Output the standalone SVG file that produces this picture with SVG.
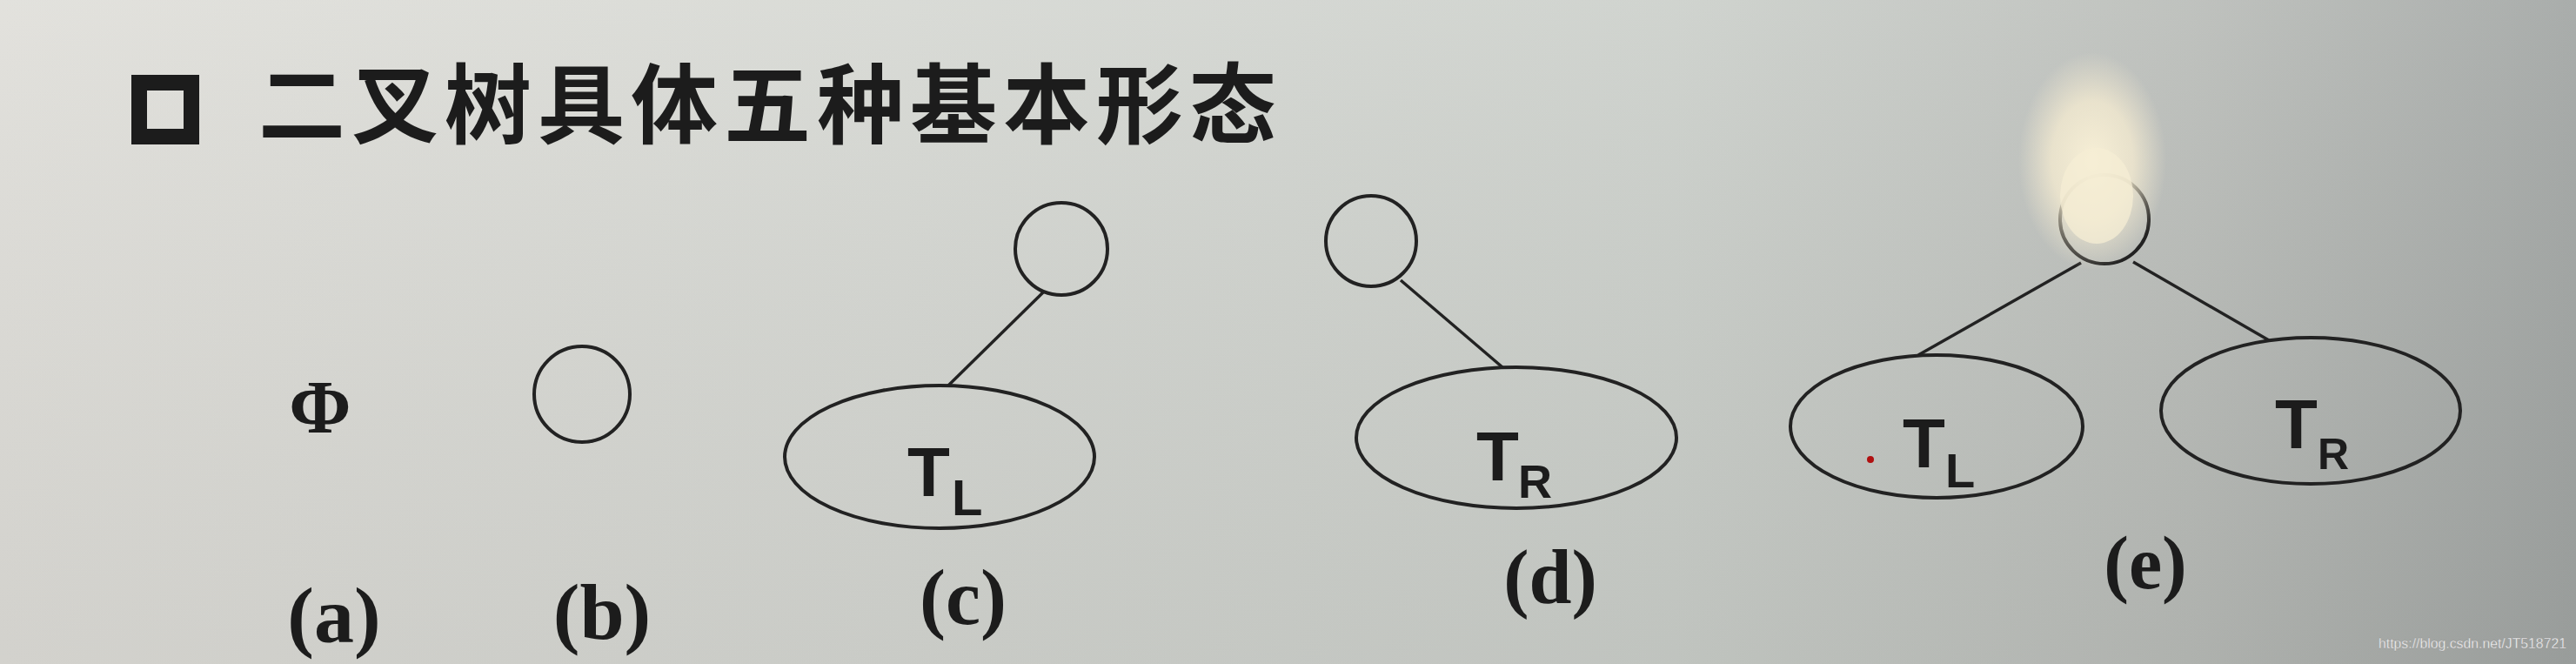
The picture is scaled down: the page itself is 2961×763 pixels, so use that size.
<svg xmlns="http://www.w3.org/2000/svg" width="2961" height="763" viewBox="0 0 2961 763">
<defs>
<linearGradient id="bg" x1="0" y1="0" x2="1" y2="0">
<stop offset="0" stop-color="#e0dfda"/>
<stop offset="0.35" stop-color="#d6d8d3"/>
<stop offset="0.65" stop-color="#ccd0cb"/>
<stop offset="0.85" stop-color="#babdb9"/>
<stop offset="1" stop-color="#a2a6a4"/>
</linearGradient>
<linearGradient id="shade" x1="0" y1="0" x2="0" y2="1">
<stop offset="0" stop-color="#ffffff" stop-opacity="0.08"/>
<stop offset="1" stop-color="#000000" stop-opacity="0.06"/>
</linearGradient>
<radialGradient id="glare" cx="0.5" cy="0.5" r="0.5">
<stop offset="0" stop-color="#f7efd6" stop-opacity="1"/>
<stop offset="0.55" stop-color="#f3ead0" stop-opacity="0.8"/>
<stop offset="1" stop-color="#f0e8d0" stop-opacity="0"/>
</radialGradient>
<style>
.node{fill:none;stroke:#222;stroke-width:4}
.edge{stroke:#222;stroke-width:3.5;fill:none}
.tt{font-family:"Liberation Sans","DejaVu Sans",sans-serif;font-weight:bold;fill:#1c1c1c}
.lbl{font-family:"Liberation Serif","DejaVu Serif",serif;font-weight:bold;fill:#1c1c1c;text-anchor:middle}
.title{font-family:"Noto Sans CJK SC","Noto Sans",sans-serif;font-weight:bold;fill:#1c1c1c}
</style>
</defs>
<rect x="0" y="0" width="2961" height="763" fill="url(#bg)"/>
<rect x="0" y="0" width="2961" height="763" fill="url(#shade)"/>

<g id="title">
<rect x="160" y="95" width="60" height="62" fill="none" stroke="#1c1c1c" stroke-width="18"/>
<text class="title" x="297" y="157" font-size="100" letter-spacing="7">二叉树具体五种基本形态</text>
</g>

<g id="connectors">
<line class="edge" x1="1200" y1="335" x2="1090" y2="443"/>
<line class="edge" x1="1610" y1="322" x2="1727" y2="422"/>
<line class="edge" x1="2392" y1="302" x2="2205" y2="408"/>
<line class="edge" x1="2452" y1="301" x2="2608" y2="391"/>
</g>

<g id="node-a">
<text class="lbl" x="368" y="497" font-size="86">Φ</text>
</g>

<g id="node-b">
<circle class="node" cx="669" cy="453" r="55"/>
</g>

<g id="node-c-root">
<circle class="node" cx="1220" cy="286" r="53"/>
</g>
<g id="node-c-TL">
<ellipse class="node" cx="1080" cy="525" rx="178" ry="82"/>
<text class="tt" x="1043" y="570" font-size="80">T<tspan x="1094" y="592" font-size="58">L</tspan></text>
</g>

<g id="node-d-root">
<circle class="node" cx="1576" cy="277" r="52"/>
</g>
<g id="node-d-TR">
<ellipse class="node" cx="1743" cy="503" rx="184" ry="81"/>
<text class="tt" x="1697" y="552" font-size="80">T<tspan x="1745" y="572" font-size="54">R</tspan></text>
</g>

<g id="node-e-root">
<circle class="node" cx="2419" cy="252" r="51"/>
</g>
<g id="node-e-TL">
<ellipse class="node" cx="2226" cy="490" rx="168" ry="82"/>
<circle cx="2150" cy="528" r="4" fill="#b01010"/>
<text class="tt" x="2187" y="537" font-size="80">T<tspan x="2236" y="560" font-size="56">L</tspan></text>
</g>
<g id="node-e-TR">
<ellipse class="node" cx="2656" cy="472" rx="172" ry="84"/>
<text class="tt" x="2615" y="515" font-size="80">T<tspan x="2664" y="539" font-size="50">R</tspan></text>
</g>

<ellipse cx="2405" cy="185" rx="85" ry="125" fill="url(#glare)"/>
<ellipse cx="2410" cy="225" rx="42" ry="55" fill="#f5edd4" opacity="0.75"/>

<g id="labels">
<text class="lbl" x="384" y="738" font-size="92">(a)</text>
<text class="lbl" x="692" y="734" font-size="92">(b)</text>
<text class="lbl" x="1107" y="717" font-size="90">(c)</text>
<text class="lbl" x="1782" y="693" font-size="88">(d)</text>
<text class="lbl" x="2466" y="676" font-size="86" fill="#3a3a36">(e)</text>
</g>

<text x="2734" y="745" font-family="Liberation Sans, Arial, sans-serif" font-size="17" fill="#f4f4f4" textLength="216" lengthAdjust="spacingAndGlyphs" stroke="#888" stroke-width="0.3">https://blog.csdn.net/JT518721</text>
</svg>
